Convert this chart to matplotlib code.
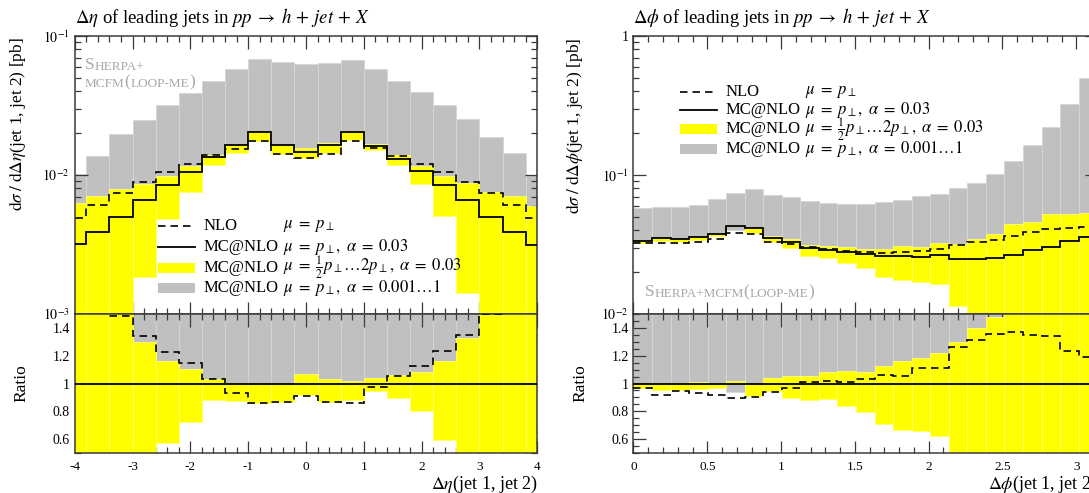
import numpy as np
import matplotlib
matplotlib.use('Agg')
import matplotlib.pyplot as plt
from matplotlib.ticker import MultipleLocator, LogLocator, NullFormatter, FormatStrFormatter
from matplotlib.patches import Rectangle
from matplotlib.lines import Line2D

plt.rcParams['font.family'] = ['Liberation Serif', 'DejaVu Serif']
plt.rcParams['mathtext.fontset'] = 'stix'
plt.rcParams['axes.unicode_minus'] = False

#=====================================
# data
#=====================================
# --- delta eta (21 bins of 0.4, centred on -4 ... 4)
eta_edges = np.linspace(-4.2, 4.2, 22)
eta_mc = [0.00321, 0.00389, 0.00501, 0.00664, 0.00851, 0.01051, 0.01346, 0.01652, 0.0203, 0.01637,
          0.01456, 0.01644, 0.0204, 0.0161, 0.0131, 0.0107, 0.00851, 0.0066, 0.00496, 0.00389, 0.00312]
eta_nlo = [0.0049, 0.0061, 0.00746, 0.00891, 0.01044, 0.01204, 0.01394, 0.01536, 0.0175, 0.0142,
           0.01326, 0.01427, 0.01756, 0.01567, 0.01379, 0.01203, 0.01048, 0.00888, 0.00743, 0.0061, 0.0049]
eta_yel_hi = [0.00625, 0.00706, 0.00798, 0.0086, 0.0099, 0.01159, 0.01388, 0.01652, 0.0203, 0.01637,
              0.01551, 0.01695, 0.0208, 0.01676, 0.01389, 0.0116, 0.00987, 0.00874, 0.00759, 0.0071, 0.006]
eta_yel_lo = [0.0005, 0.0005, 0.0005, 0.00184, 0.00484, 0.00759, 0.01184, 0.01446, 0.01746, 0.01416,
              0.01332, 0.0143, 0.01795, 0.01521, 0.01172, 0.00856, 0.00505, 0.00141, 0.0005, 0.0005, 0.0005]
eta_gray_hi = [0.0101, 0.0137, 0.0196, 0.025, 0.0317, 0.0391, 0.0477, 0.0576, 0.0684, 0.0647,
               0.0625, 0.064, 0.0672, 0.0579, 0.0472, 0.0394, 0.0321, 0.0254, 0.0187, 0.0143, 0.01]
eta_gray_lo = eta_mc

# --- delta phi (25 bins from 0 to pi)
phi_edges = np.linspace(0, np.pi, 26)
phi_mc = [0.0335, 0.035, 0.0344, 0.0356, 0.0374, 0.0429, 0.0418, 0.0352, 0.0331, 0.0298, 0.0287, 0.0279, 0.027,
          0.026, 0.0263, 0.0258, 0.0266, 0.0247, 0.0249, 0.0253, 0.0267, 0.0289, 0.0302, 0.0335, 0.0356]
phi_nlo = [0.0323, 0.0322, 0.0325, 0.0332, 0.0344, 0.0383, 0.0376, 0.0331, 0.0321, 0.0301, 0.0293, 0.0282, 0.0278,
           0.0275, 0.0278, 0.0286, 0.0295, 0.0312, 0.0327, 0.0343, 0.0365, 0.0389, 0.0406, 0.0414, 0.0423]
phi_yel_hi = [0.0335, 0.035, 0.0346, 0.036, 0.0376, 0.0438, 0.0418, 0.0365, 0.0349, 0.0314, 0.031, 0.0304, 0.0292,
              0.0293, 0.0306, 0.0305, 0.0324, 0.032, 0.0348, 0.0374, 0.0446, 0.0459, 0.0527, 0.0527, 0.0536]
phi_yel_lo = [0.0323, 0.0334, 0.0329, 0.0342, 0.0361, 0.0429, 0.038, 0.0332, 0.0297, 0.0262, 0.0254, 0.0234, 0.0215,
              0.0185, 0.0175, 0.017, 0.0165, 0.0114, 0.009, 0.005, 0.005, 0.005, 0.005, 0.005, 0.005]
phi_gray_hi = [0.0579, 0.0589, 0.0592, 0.0608, 0.0672, 0.0742, 0.0789, 0.0722, 0.0691, 0.0646, 0.0626, 0.0622, 0.0622,
               0.0636, 0.0661, 0.0703, 0.0727, 0.0802, 0.0875, 0.102, 0.127, 0.164, 0.221, 0.324, 0.496]
phi_gray_lo = [0.0335, 0.035, 0.0344, 0.0356, 0.0374, 0.0403, 0.0418, 0.0352, 0.0331, 0.0298, 0.0287, 0.0279, 0.027,
               0.026, 0.0263, 0.0258, 0.0266, 0.0247, 0.0249, 0.0253, 0.0267, 0.0289, 0.0302, 0.0335, 0.0356]

legend_rows = [('NLO', r'$\mu\;=\;p_\perp$'),
               ('MC@NLO', r'$\mu\;=\;p_\perp,\ \alpha\;=\;0.03$'),
               ('MC@NLO', r'$\mu\;=\;\frac{1}{2}p_\perp \ldots 2p_\perp,\ \alpha\;=\;0.03$'),
               ('MC@NLO', r'$\mu\;=\;p_\perp,\ \alpha\;=\;0.001\ldots1$')]

YEL = '#ffff00'
GRAY = '#c0c0c0'
FRAME = '#3a3a3a'
DASH = (0, (4.5, 3))


# -------------------------
# helpers
# -------------------------
def bands(edges, lo, hi, scale):
    w = np.diff(edges)
    lo = np.asarray(lo) / scale
    hi = np.asarray(hi) / scale
    return edges[:-1], w, lo, hi - lo


def draw_hist(ax, edges, mc, nlo, ylo, yhi, glo, ghi, scale):
    x, w, b, h = bands(edges, glo, ghi, scale)
    ax.bar(x, h, bottom=b, width=w, align='edge', color=GRAY, edgecolor='#d6d6d6', lw=0.6, zorder=1)
    x, w, b, h = bands(edges, ylo, yhi, scale)
    ax.bar(x, h, bottom=b, width=w, align='edge', color=YEL, edgecolor='#ffff70', lw=0.6, zorder=2)
    ax.stairs(np.asarray(mc) / scale, edges, baseline=None, color='k', lw=1.3, zorder=4)
    ax.stairs(np.asarray(nlo) / scale, edges, baseline=None, color='k', lw=1.2, ls=DASH, zorder=3)


def style(ax, xmaj, xmin):
    ax.xaxis.set_major_locator(MultipleLocator(xmaj))
    ax.xaxis.set_minor_locator(MultipleLocator(xmin))
    ax.tick_params(which='both', direction='in', top=True, right=True, colors=FRAME,
                   labelcolor='k', labelsize=10)
    ax.tick_params(which='major', length=9, width=0.9)
    ax.tick_params(which='minor', length=4.5, width=0.9)
    for s in ax.spines.values():
        s.set_color(FRAME)
        s.set_linewidth(1.1)


def small_caps(ax, x, y, parts, color='#a8a8a8'):
    # parts: list of (text, size) chained left to right
    t = ax.text(x, y, parts[0][0], transform=ax.transAxes, fontsize=parts[0][1], color=color,
                ha='left', va='baseline', zorder=6)
    for txt, size in parts[1:]:
        t = ax.annotate(txt, xy=(1, 0), xycoords=t, fontsize=size, color=color,
                        ha='left', va='bottom', zorder=6)
    return t


def legend(ax, hx0, hx1, tx, mx, rows_y):
    for (name, math), y, kind in zip(legend_rows, rows_y, ['dash', 'line', 'yel', 'gray']):
        if kind == 'dash':
            ax.add_line(Line2D([hx0, hx1], [y, y], transform=ax.transAxes, color='k', lw=1.2, ls=DASH, zorder=7))
        elif kind == 'line':
            ax.add_line(Line2D([hx0, hx1], [y, y], transform=ax.transAxes, color='k', lw=1.3, zorder=7))
        else:
            ax.add_patch(Rectangle((hx0, y - 0.018), hx1 - hx0, 0.036, transform=ax.transAxes,
                                   color=YEL if kind == 'yel' else GRAY, lw=0, zorder=7))
        ax.text(tx, y, name, transform=ax.transAxes, fontsize=12, va='center', ha='left', zorder=7)
        ax.text(mx, y, math, transform=ax.transAxes, fontsize=12, va='center', ha='left', zorder=7)


# -------------------------
# figure
# -------------------------
fig = plt.figure(figsize=(10.89, 4.93), dpi=100)

panels = [
    dict(left=0.0686, width=0.4248, edges=eta_edges, mc=eta_mc, nlo=eta_nlo, ylo=eta_yel_lo, yhi=eta_yel_hi,
         glo=eta_gray_lo, ghi=eta_gray_hi, xlim=(-4, 4), ylim=(1e-3, 1e-1), xmaj=1, xmin=0.2,
         yticks=[1e-3, 1e-2, 1e-1], ylabels=['$10^{-3}$', '$10^{-2}$', '$10^{-1}$'],
         title=r'$\Delta\eta$ of leading jets in $pp\;\rightarrow\;h\,+\,jet\,+\,X$',
         ylab=r'$\mathrm{d}\sigma\;/\;\mathrm{d}\Delta\eta$(jet 1, jet 2) [pb]',
         xlab=r'$\Delta\eta$(jet 1, jet 2)', ylab_x=-0.123, ratio_x=-0.116,
         leg=(0.180, 0.260, 0.2795, 0.4503, [0.318, 0.242, 0.166, 0.092])),
    dict(left=0.5817, width=0.4258, edges=phi_edges, mc=phi_mc, nlo=phi_nlo, ylo=phi_yel_lo, yhi=phi_yel_hi,
         glo=phi_gray_lo, ghi=phi_gray_hi, xlim=(0, np.pi), ylim=(1e-2, 1), xmaj=0.5, xmin=0.1,
         yticks=[1e-2, 1e-1, 1], ylabels=['$10^{-2}$', '$10^{-1}$', '1'],
         title=r'$\Delta\phi$ of leading jets in $pp\;\rightarrow\;h\,+\,jet\,+\,X$',
         ylab=r'$\mathrm{d}\sigma\;/\;\mathrm{d}\Delta\phi$(jet 1, jet 2) [pb]',
         xlab=r'$\Delta\phi$(jet 1, jet 2)', ylab_x=-0.127, ratio_x=-0.115,
         leg=(0.100, 0.180, 0.1995, 0.3697, [0.799, 0.732, 0.664, 0.594])),
]

for i, p in enumerate(panels):
    ax = fig.add_axes([p['left'], 0.3631, p['width'], 0.5639])
    axr = fig.add_axes([p['left'], 0.0811, p['width'], 0.2820], sharex=ax)

    draw_hist(ax, p['edges'], p['mc'], p['nlo'], p['ylo'], p['yhi'], p['glo'], p['ghi'], 1.0)
    mc = np.asarray(p['mc'])
    draw_hist(axr, p['edges'], p['mc'], p['nlo'], p['ylo'], p['yhi'], p['glo'], p['ghi'], mc)

    ax.set_yscale('log')
    ax.set_xlim(*p['xlim'])
    ax.set_ylim(*p['ylim'])
    axr.set_ylim(0.5, 1.5)
    style(ax, p['xmaj'], p['xmin'])
    style(axr, p['xmaj'], p['xmin'])
    ax.yaxis.set_major_locator(LogLocator(base=10))
    ax.yaxis.set_minor_locator(LogLocator(base=10, subs=np.arange(2, 10)))
    ax.yaxis.set_minor_formatter(NullFormatter())
    ax.set_yticks(p['yticks'], p['ylabels'])
    ax.tick_params(axis='x', labelbottom=False)
    axr.yaxis.set_major_locator(MultipleLocator(0.2))
    axr.yaxis.set_minor_locator(MultipleLocator(0.05))
    axr.set_yticks([0.6, 0.8, 1.0, 1.2, 1.4], ['0.6', '0.8', '1', '1.2', '1.4'])
    axr.xaxis.set_major_formatter(FormatStrFormatter('%g'))
    axr.tick_params(axis='x', pad=6, labelsize=9.5)

    # labels
    ax.text(0.0, 1.068, p['title'], transform=ax.transAxes, fontsize=13.5, ha='left', va='center')
    ax.text(p['ylab_x'], 0.995, p['ylab'], transform=ax.transAxes, fontsize=12.5, rotation=90,
            ha='center', va='top')
    axr.text(p['ratio_x'], 0.5, 'Ratio', transform=axr.transAxes, fontsize=12.5, rotation=90,
             ha='center', va='center')
    axr.text(1.0, -0.225, p['xlab'], transform=axr.transAxes, fontsize=13, ha='right', va='center')

    legend(ax, *p['leg'])

    if i == 0:
        small_caps(ax, 0.022, 0.88, [('S', 12.5), ('HERPA+', 9.5)])
        small_caps(ax, 0.022, 0.815, [('MCFM', 9.5), ('(', 12.5), ('LOOP-ME', 9.5), (')', 12.5)])
    else:
        small_caps(ax, 0.024, 0.065, [('S', 12.5), ('HERPA+MCFM', 9.5), ('(', 12.5), ('LOOP-ME', 9.5),
                                      (')', 12.5)])

fig.savefig('out.png', dpi=100)
